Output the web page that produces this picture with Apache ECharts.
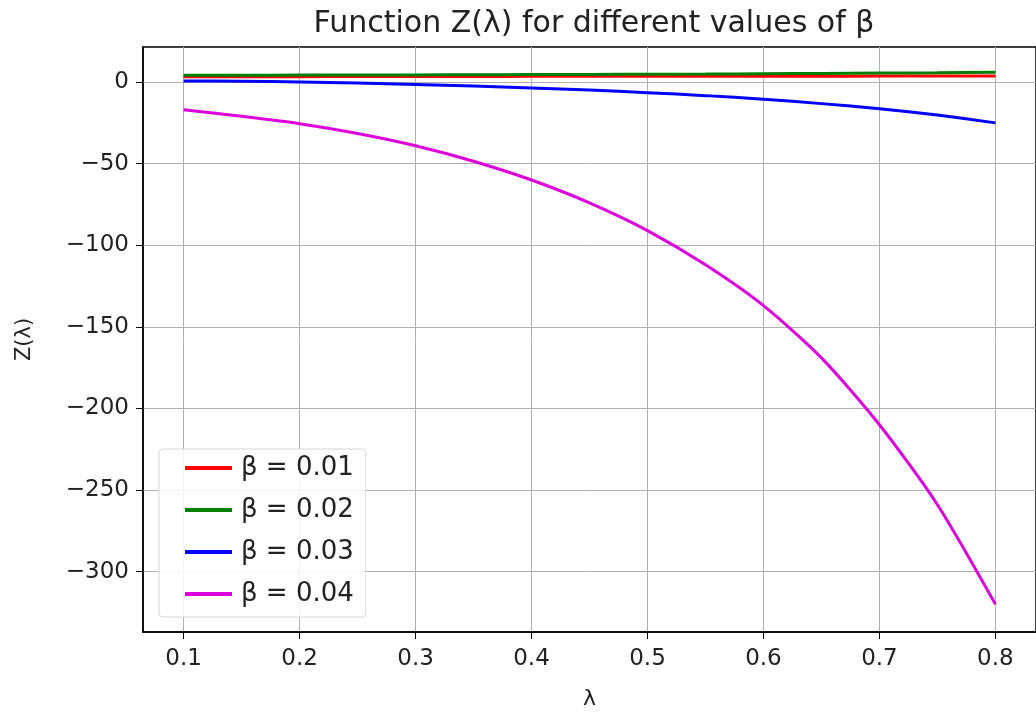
<!DOCTYPE html>
<html>
<head>
<meta charset="utf-8">
<script src="https://cdn.jsdelivr.net/npm/echarts@6/dist/echarts.min.js"></script>
<style>
  html, body { margin: 0; padding: 0; background: #fff; }
  #chart { width: 1036px; height: 717px; }
</style>
</head>
<body>
<div id="chart"></div>
<script>
// lambda samples
const lambdas = [0.1, 0.15, 0.2, 0.25, 0.3, 0.35, 0.4, 0.45, 0.5, 0.55, 0.6, 0.65, 0.7, 0.75, 0.8];

// Z(lambda), one list per beta
const zBeta01 = [3.3, 3.3, 3.3, 3.4, 3.4, 3.4, 3.5, 3.5, 3.5, 3.6, 3.6, 3.6, 3.7, 3.7, 3.8];
const zBeta02 = [4.2, 4.2, 4.3, 4.3, 4.4, 4.5, 4.6, 4.7, 4.8, 4.9, 5.1, 5.3, 5.5, 5.7, 6.0];
const zBeta03 = [0.7, 0.5, 0.1, -0.6, -1.5, -2.4, -3.6, -4.9, -6.5, -8.3, -10.5, -13.2, -16.3, -20.2, -25];
const zBeta04 = [-17, -21, -25.5, -31.5, -39, -48.5, -60, -74, -91, -112, -137, -169, -210, -259, -320];

const seriesNames = ['β = 0.01', 'β = 0.02', 'β = 0.03', 'β = 0.04'];
const seriesColors = ['#ff0000', '#008000', '#0000ff', '#dd00dd'];
const xTicks = [0.1, 0.2, 0.3, 0.4, 0.5, 0.6, 0.7, 0.8];
const yTicks = [-300, -250, -200, -150, -100, -50, 0];

const allZ = [zBeta01, zBeta02, zBeta03, zBeta04];

const chart = echarts.init(document.getElementById('chart'), null, { renderer: 'canvas' });

const axisFont = { fontFamily: 'DejaVu Sans', fontSize: 23, color: '#222' };

chart.setOption({
  animation: false,
  title: {
    text: 'Function Z(λ) for different values of β',
    left: 589,
    top: 4,
    textAlign: 'center',
    textStyle: { fontFamily: 'DejaVu Sans', fontSize: 30, fontWeight: 'normal', color: '#222' }
  },
  grid: {
    left: 143, top: 47, width: 896, height: 585, containLabel: false,
    show: true, borderColor: '#000', borderWidth: 1.5, backgroundColor: 'transparent'
  },
  legend: {
    orient: 'vertical',
    left: 159,
    top: 449,
    data: seriesNames,
    icon: 'rect',
    itemWidth: 47,
    itemHeight: 4,
    itemGap: 12,
    padding: [4, 12, 8, 26],
    backgroundColor: 'rgba(255,255,255,0.85)',
    borderColor: '#d6d6d6',
    borderWidth: 1,
    borderRadius: 4,
    textStyle: { fontFamily: 'DejaVu Sans', fontSize: 26, lineHeight: 30, color: '#222', padding: [0, 0, 0, 4] }
  },
  xAxis: {
    type: 'value',
    min: 0.065,
    max: 0.835,
    name: 'λ',
    nameLocation: 'middle',
    nameGap: 56,
    nameTextStyle: { fontFamily: 'DejaVu Sans', fontSize: 22, color: '#222' },
    axisLine: { onZero: false, lineStyle: { color: '#000', width: 1.5 } },
    axisTick: { show: true, length: 7, customValues: xTicks, lineStyle: { color: '#000', width: 1 } },
    axisLabel: { customValues: xTicks, margin: 16, formatter: v => v.toFixed(1), ...axisFont },
    splitLine: { show: true, lineStyle: { color: '#b0b0b0', width: 1 } }
  },
  yAxis: {
    type: 'value',
    min: -337,
    max: 21.5,
    name: 'Z(λ)',
    nameLocation: 'middle',
    nameGap: 108,
    nameTextStyle: { fontFamily: 'DejaVu Sans', fontSize: 21, color: '#222' },
    axisLine: { show: true, onZero: false, lineStyle: { color: '#000', width: 1.5 } },
    axisTick: { show: true, length: 7, customValues: yTicks, lineStyle: { color: '#000', width: 1 } },
    axisLabel: { customValues: yTicks, margin: 14, formatter: v => (v < 0 ? '\u2212' + Math.abs(v) : String(v)), ...axisFont },
    splitLine: { show: true, lineStyle: { color: '#b0b0b0', width: 1 } }
  },
  series: allZ.map((zs, i) => ({
    name: seriesNames[i],
    type: 'line',
    smooth: 0.25,
    showSymbol: false,
    color: seriesColors[i],
    lineStyle: { width: 3, color: seriesColors[i] },
    data: lambdas.map((x, j) => [x, zs[j]])
  }))
});
</script>
</body>
</html>
